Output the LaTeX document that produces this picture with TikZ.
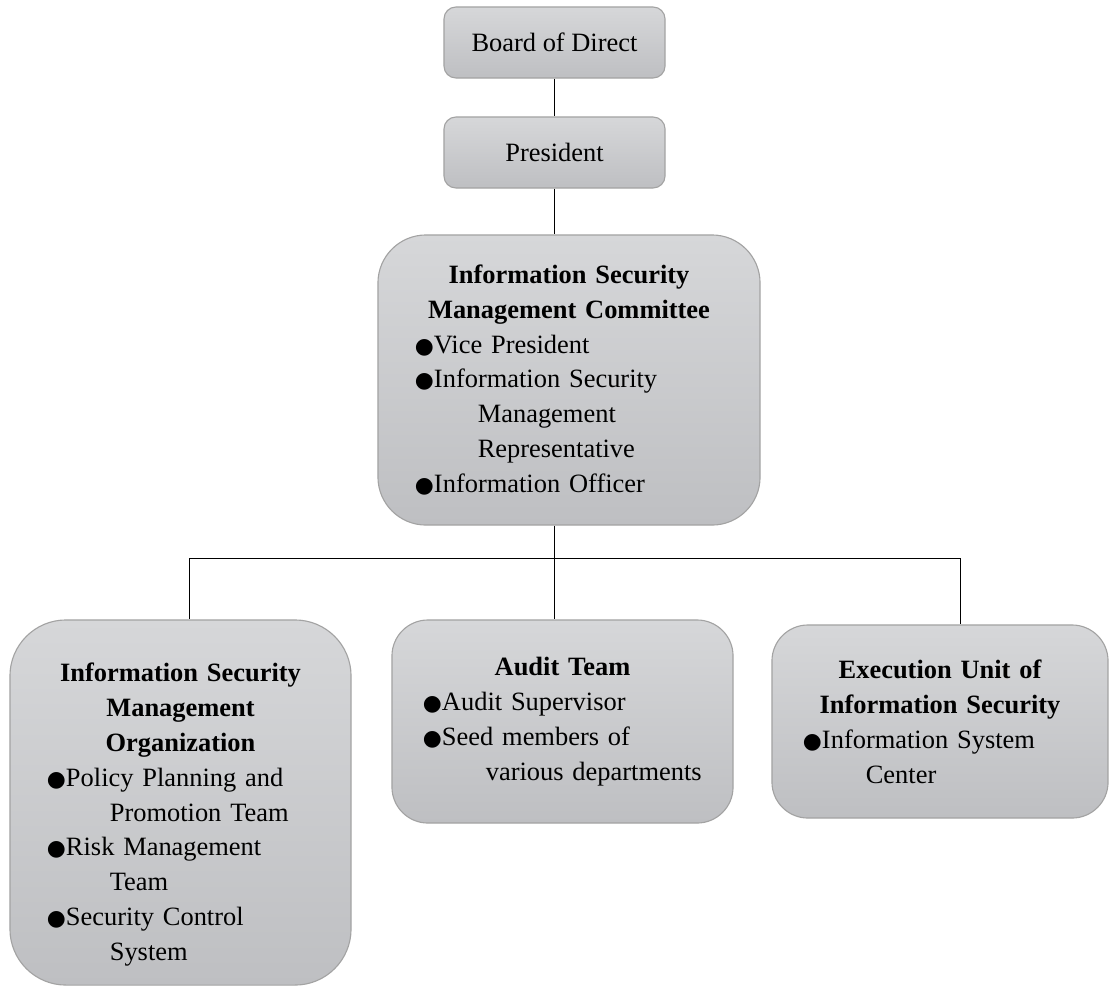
\documentclass[tikz,border=0pt]{standalone}
\usepackage{fontspec}
\setmainfont{Liberation Serif}
\newfontfamily\dotfont{DejaVu Sans}
\usepackage{tikz}

\definecolor{boxtop}{HTML}{D6D7D9}
\definecolor{boxbot}{HTML}{BEBFC2}
\definecolor{boxline}{HTML}{A3A3A3}

\newcommand{\bul}[1]{{\dotfont\fontsize{15.5}{24.8}\selectfont ●}\mbox{#1}}
\newcommand{\cont}[1]{\hspace*{44.7pt}\mbox{#1}}

\begin{document}
\begin{tikzpicture}[
            x=0.025cm, y=-0.025cm,
            font=\fontsize{18.8}{24.8}\selectfont,
            orgbox/.style={draw=boxline, line width=0.8pt, top color=boxtop, bottom color=boxbot,
                inner sep=0pt, align=left},
            link/.style={draw=black, line width=0.7pt},
            % every node/.style = {draw},
            ]
            \useasboundingbox (0,0) rectangle (1109,989);

            \node[orgbox, rounded corners=0.3cm, minimum width=5.525cm, minimum height=1.775cm, align=center]
                (board) at (554.5, 42.5) {Board of Direct};
            \node[orgbox, rounded corners=0.3cm, minimum width=5.525cm, minimum height=1.775cm, align=center]
                (pres) at (554.5, 152.5) {President};
            \node[orgbox, rounded corners=1.2cm, minimum width=9.55cm, minimum height=7.25cm, text width=7.7cm]
                (comm) at (569, 380) {{\centering\bfseries Information Security\\ Management Committee\par}
                \bul{Vice President}\\ \bul{Information Security}\\ \cont{Management}\\ \cont{Representative}\\
                \bul{Information Officer}};

            \node[orgbox, rounded corners=1.4cm, minimum width=8.525cm, minimum height=9.125cm, text width=6.675cm]
                (org) at (180.5, 802.5) {{\centering\bfseries\rule{0pt}{30.5pt}Information Security\\ Management\\ Organization\par}
                \bul{Policy Planning and}\\ \cont{Promotion Team}\\ \bul{Risk Management}\\ \cont{Team}\\
                \bul{Security Control}\\ \cont{System}};
            \node[orgbox, rounded corners=0.9cm, minimum width=8.525cm, minimum height=5.075cm, text width=6.975cm]
                (audit) at (562.5, 721.5) {{\centering\bfseries Audit Team\par}
                \bul{Audit Supervisor}\\ \bul{Seed members of}\\ \cont{various departments}\par\vspace{14pt}};
            \node[orgbox, rounded corners=0.9cm, minimum width=8.4cm, minimum height=4.825cm, text width=6.85cm]
                (exec) at (940, 721.5) {{\centering\bfseries Execution Unit of\\ Information Security\par}
                \bul{Information System}\\ \cont{Center}\par\vspace{14pt}};

            \coordinate (bus) at (554, 558);
            \coordinate (busL) at (189, 558);
            \coordinate (busR) at (960, 558);

            \draw[link] (board) -- (pres);
            \draw[link] (pres.south) -- (pres.south |- comm.north);
            \draw[link] (comm.south -| bus) -- (bus);
            \draw[link] (busL) -- (busR);
            \draw[link] (busL) -- (busL |- org.north);
            \draw[link] (bus) -- (bus |- audit.north);
            \draw[link] (busR) -- (busR |- exec.north);
        \end{tikzpicture}
\end{document}
